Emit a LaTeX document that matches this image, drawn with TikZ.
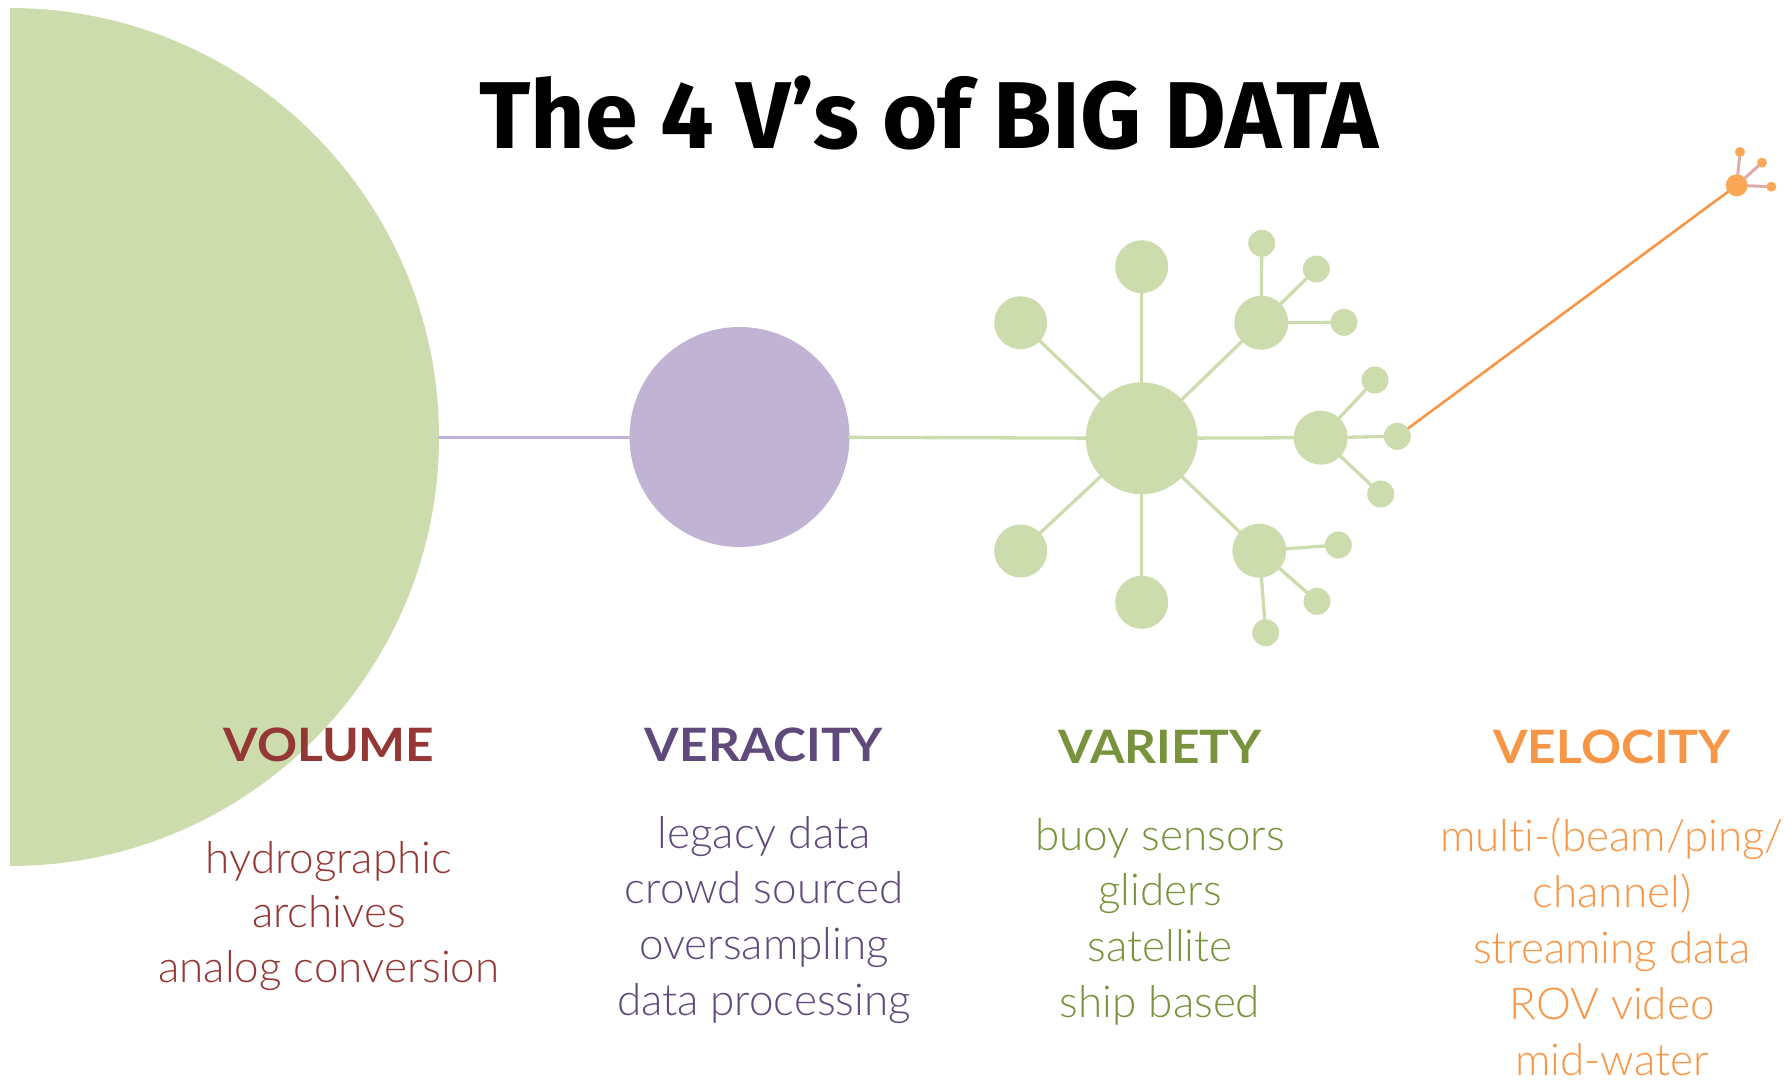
\documentclass[tikz,border=0pt]{standalone}
\usepackage{fontspec}
\setmainfont{Lato}[UprightFont=* Light, BoldFont=* Bold, Ligatures=NoCommon]
\newfontfamily\headfont{Lato}[UprightFont=* Bold, FakeStretch=1.08]
\newfontfamily\titlefont{Fira Sans}
\definecolor{leaf}{RGB}{205,220,173}
\definecolor{lilac}{RGB}{192,179,211}
\definecolor{amber}{RGB}{250,168,85}
\definecolor{rose}{RGB}{222,172,168}
\definecolor{volc}{RGB}{149,55,53}
\definecolor{verc}{RGB}{96,74,123}
\definecolor{varc}{RGB}{119,147,60}
\definecolor{velc}{RGB}{247,150,70}
\begin{document}
\begin{tikzpicture}[x=1pt, y=-1pt, line cap=round,
	dot/.style={circle, fill=#1, inner sep=0pt},
	head/.style={text=#1, anchor=base, inner sep=0pt, font=\headfont\fontsize{46}{50}\selectfont},
	item/.style={text=#1, anchor=base, inner sep=0pt, font=\fontsize{44}{50}\selectfont}]
	\useasboundingbox (0,0) rectangle (1784,1079);
	% volume
	\begin{scope}
		\clip (10,0) rectangle (600,1079);
		\fill[leaf] (10,437) circle[radius=429];
	\end{scope}
	\coordinate (vol) at (439,437);
	\node[dot=lilac, minimum size=220pt] (vera) at (739.5,437) {};
	\node[dot=leaf, minimum size=112pt] (ctr) at (1141.7,438.3) {};
	\foreach \n/\x/\y/\d in {t/1141.7/266.7/53, ul/1020.7/322.7/53, ll/1020.7/551/53, b/1141.7/602.3/53,
		ur/1261.3/322.7/54, r/1320.7/437.7/54, lr/1259.3/550.7/54}
	\node[dot=leaf, minimum size=\d pt] (\n) at (\x,\y) {};
	\foreach \n/\x/\y in {ur1/1261.7/243.3, ur2/1316.3/269, ur3/1344/322.3,
		r1/1375/380, r2/1397.3/436.3, r3/1380.7/494,
		lr1/1338.3/545, lr2/1317/601.3, lr3/1265.7/632.7}
	\node[dot=leaf, minimum size=27pt] (\n) at (\x,\y) {};
	\node[dot=amber, minimum size=22pt] (hub) at (1736.7,185.3) {};
	\foreach \n/\x/\y in {o1/1740/152, o2/1762/162.7, o3/1771.3/186.7}
	\node[dot=amber, minimum size=10pt] (\n) at (\x,\y) {};
	% connectors
	\draw[lilac, line width=3pt] (vol) -- (vera);
	\draw[leaf, line width=3.3pt] (vera) -- (ctr);
	\foreach \n in {t,ul,ll,b,ur,r,lr}
	\draw[leaf, line width=3.3pt] (ctr) -- (\n);
	\foreach \a/\n in {ur/ur1,ur/ur2,ur/ur3,r/r1,r/r2,r/r3,lr/lr1,lr/lr2,lr/lr3}
	\draw[leaf, line width=3.3pt] (\a) -- (\n);
	\draw[velc, line width=2.6pt] (r2) -- (hub);
	\foreach \n in {o1,o2,o3}
	\draw[rose, line width=3pt] (hub) -- (\n);
	% title and labels
	\node[anchor=base, inner sep=0pt, font=\titlefont\bfseries\fontsize{95}{100}\selectfont] (title) at (929,148) {The 4 V’s of BIG DATA};
	\node[head=volc] (hvol) at (329,761) {VOLUME};
	\node[head=verc] (hver) at (764,761) {VERACITY};
	\node[head=varc] (hvar) at (1160,763) {VARIETY};
	\node[head=velc] (hvel) at (1612,763) {VELOCITY};
	\foreach \t [count=\i] in {hydrographic, archives, analog conversion}
	\node[item=volc] (vol\i) at (329,{873+54.5*(\i-1)}) {\t};
	\foreach \t [count=\i] in {legacy data, crowd sourced, oversampling, data processing}
	\node[item=verc] (ver\i) at (764,{848+55.7*(\i-1)}) {\t};
	\foreach \t [count=\i] in {buoy sensors, gliders, satellite, ship based}
	\node[item=varc] (var\i) at (1160,{850+55.7*(\i-1)}) {\t};
	\foreach \t [count=\i] in {multi-(beam/ping/, channel), streaming data, ROV video, mid-water}
	\node[item=velc] (vel\i) at (1612,{851+56*(\i-1)}) {\t};
\end{tikzpicture}
\end{document}
